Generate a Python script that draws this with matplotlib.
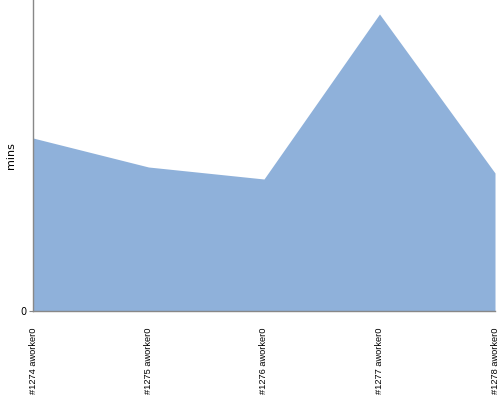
import numpy as np
import matplotlib.pyplot as plt

# builds and their time (y scale only shows 0)
builds = ['#1274 aworker0', '#1275 aworker0', '#1276 aworker0',
          '#1277 aworker0', '#1278 aworker0']
mins = [173, 144, 132, 297, 138]

fig = plt.figure(figsize=(5, 4), dpi=100)
ax = fig.add_axes([0.066, 0.2225, 0.924, 0.7775])

x = np.arange(len(builds))
ax.fill_between(x, mins, 0, color='#8fb1da', linewidth=0)

ax.set_xlim(x[0], x[-1])
ax.set_ylim(0, 311)
ax.set_yticks([0])
ax.set_yticklabels(['0'], fontsize=7)
ax.set_xticks(x)
ax.set_xticklabels(builds, rotation=90, fontsize=6.7, family='Liberation Sans')
ax.tick_params(axis='x', length=0, pad=12)
ax.tick_params(axis='y', length=3, color='#888888', pad=2)
ax.set_ylabel('mins', fontsize=8, labelpad=3)

for side in ['top', 'right']:
    ax.spines[side].set_visible(False)
for side in ['left', 'bottom']:
    ax.spines[side].set_color('#888888')
    ax.spines[side].set_linewidth(1)

plt.savefig('out.png')
